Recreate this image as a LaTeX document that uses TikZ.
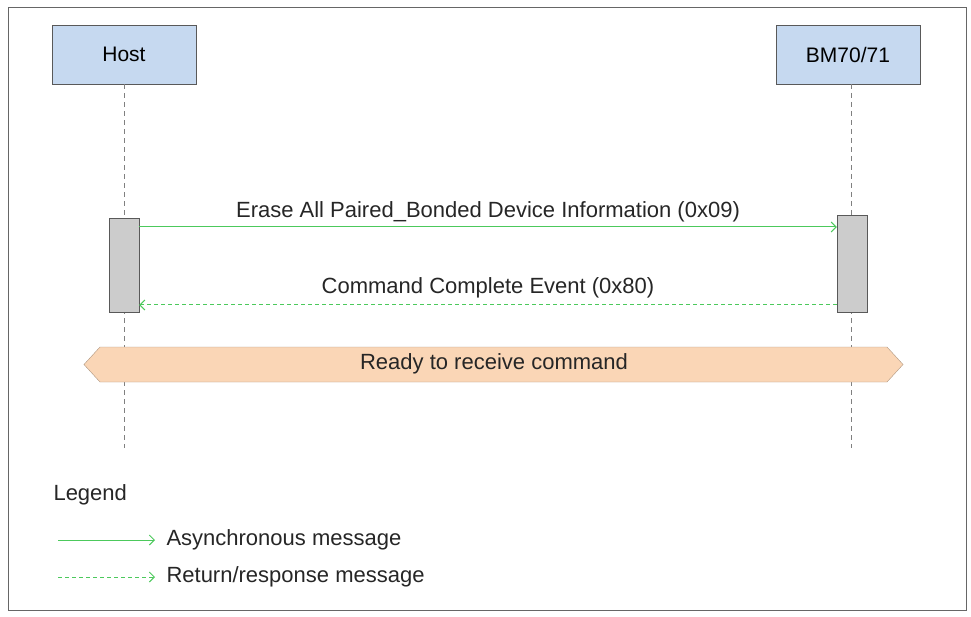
\documentclass[tikz,border=0pt]{standalone}
\usepackage{fontspec}
\setmainfont{Liberation Sans}
\usetikzlibrary{arrows.meta}
\definecolor{boxblue}{HTML}{C6D9F0}
\definecolor{msg}{HTML}{4CC95C}
\definecolor{band}{HTML}{FAD6B6}
\begin{document}
\begin{tikzpicture}[x=1pt,y=-1pt,
  part/.style={draw=gray!70!black,fill=boxblue,minimum width=144pt,minimum height=59pt,font=\fontsize{21}{25}\selectfont},
  act/.style={draw=gray!70!black,fill=gray!40,minimum width=30pt,inner sep=0},
  life/.style={draw=gray,dash pattern=on 5pt off 4pt},
  async/.style={draw=msg,line width=1pt,-{Straight Barb[length=5pt]}},
  ret/.style={draw=msg,line width=1pt,dash pattern=on 4pt off 3pt,-{Straight Barb[length=5pt]}},
  lbl/.style={font=\fontsize{22}{26}\selectfont,text=black!85}]
\useasboundingbox (0,0) rectangle (971,617);
\draw[gray!80!black,line width=0.8pt] (8,7) rectangle (966,610);
\node[part] (host) at (124,54.5) {Host};
\node[part] (bm) at (848,54.5) {BM70/71};
\coordinate (hend) at (124,448);
\coordinate (bend) at (851,448);
\draw[life] (host.south) -- (hend);
\draw[life] (851,84) -- (bend);
\node[act,minimum height=94pt] (ha) at (124,265) {};
\node[act,minimum height=97pt] (ba) at (852,263.5) {};
\draw[async] (ha.east |- 0,227) -- node[lbl,above=1pt] {Erase All Paired\_Bonded Device Information (0x09)} (ba.west |- 0,227);
\draw[ret] (ba.west |- 0,305) -- node[lbl,above=3pt] {Command Complete Event (0x80)} (ha.east |- 0,305);
\draw[fill=band,draw=band!70!black] (84,364.5) -- (100,347) -- (887,347) -- (903,364.5) -- (887,382) -- (100,382) -- cycle;
\node[lbl] (ready) at (494,364) {Ready to receive command};
\node[lbl,anchor=west] (leg) at (50,495) {Legend};
\coordinate (a1) at (58,540); \coordinate (a2) at (155,540);
\coordinate (r1) at (58,577); \coordinate (r2) at (155,577);
\draw[async] (a1) -- (a2);
\draw[ret] (r1) -- (r2);
\node[lbl,anchor=west] (at) at (163,540) {Asynchronous message};
\node[lbl,anchor=west] (rt) at (163,577) {Return/response message};
\end{tikzpicture}
\end{document}
